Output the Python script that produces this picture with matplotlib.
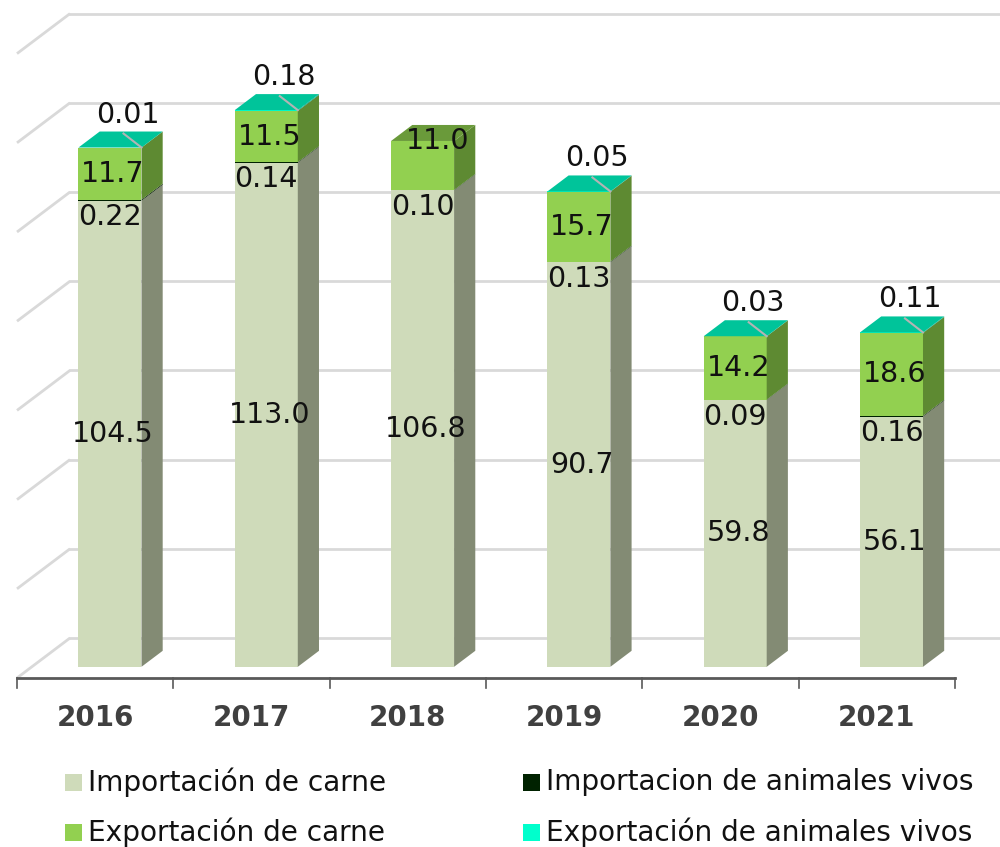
import numpy as np
import matplotlib.pyplot as plt
from matplotlib.patches import Polygon, Rectangle

# datos (miles de toneladas)
years = ['2016', '2017', '2018', '2019', '2020', '2021']
imp_carne = [104.5, 113.0, 106.8, 90.7, 59.8, 56.1]
imp_vivos = [0.22, 0.14, 0.10, 0.13, 0.09, 0.16]
exp_carne = [11.7, 11.5, 11.0, 15.7, 14.2, 18.6]
exp_vivos = [0.01, 0.18, 0.0, 0.05, 0.03, 0.11]
grid_vals = [0, 20, 40, 60, 80, 100, 120, 140]

nombres = ['Importación de carne', 'Importacion de animales vivos',
           'Exportación de carne', 'Exportación de animales vivos']
# (frente, lateral, tapa)
colores = [('#CFDBBA', '#838B74', '#A9B595'),
           ('#002200', '#001800', '#003300'),
           ('#92D050', '#5E8A32', '#6A9A3A'),
           ('#00FFCC', '#00A080', '#00C49A')]
leyenda_col = ['#CFDBBA', '#002200', '#92D050', '#00FFCC']

# escala en pixeles -> unidades
PX_X = 156.3   # px por categoria
PX_Y = 4.46    # px por unidad
DX = 53 / PX_X  # profundidad total
DY = 40 / PX_Y
BW = 63 / PX_X
D0, D1 = 0.28, 0.68

fig = plt.figure(figsize=(10, 8.47), dpi=100)
ax = fig.add_axes([0, 0, 1, 1])
ax.set_xlim(-0.5 - 17 / PX_X, -0.5 + 983 / PX_X)
ax.set_ylim(-169 / PX_Y, 678 / PX_Y)
ax.axis('off')


def P(x, v, d):
    return (x + d * DX, v + d * DY)


# paredes: lineas de cuadricula
for g in grid_vals:
    ax.plot([P(-0.5, g, 0)[0], P(-0.5, g, 1)[0]], [P(-0.5, g, 0)[1], P(-0.5, g, 1)[1]],
            color='#D9D9D9', lw=2, zorder=1, solid_capstyle='butt')
    ax.plot([P(-0.5, g, 1)[0], 7], [P(-0.5, g, 1)[1]] * 2,
            color='#D9D9D9', lw=2, zorder=1)

# eje frontal
ax.plot([-0.5, 5.5], [0, 0], color='#595959', lw=2, zorder=5)
for k in range(len(years) + 1):
    ax.plot([k - 0.5, k - 0.5], [0, -10 / PX_Y], color='#595959', lw=1.2, zorder=5)

series = [imp_carne, imp_vivos, exp_carne, exp_vivos]
lab_kw = dict(fontsize=20.5, color='#111111', ha='center', va='center', zorder=20)

for i, yr in enumerate(years):
    ax.text(i, -40 / PX_Y, yr, fontsize=20, fontweight='bold', color='#404040',
            ha='center', va='center')

    xl = i - BW / 2
    xr = i + BW / 2
    base = 0.0
    tops = []
    for s, vals in enumerate(series):
        v = vals[i]
        if v <= 0:
            tops.append(base)
            continue
        fr, sd, tp = colores[s]
        t = base + v
        front = [P(xl, base, D0), P(xr, base, D0), P(xr, t, D0), P(xl, t, D0)]
        side = [P(xr, base, D0), P(xr, base, D1), P(xr, t, D1), P(xr, t, D0)]
        ax.add_patch(Polygon(front, closed=True, fc=fr, ec='none', zorder=10))
        ax.add_patch(Polygon(side, closed=True, fc=sd, ec='none', zorder=10))
        base = t
        tops.append(t)
    # tapa con el color de la ultima serie visible
    last = max(s for s in range(4) if series[s][i] > 0)
    top = [P(xl, base, D0), P(xr, base, D0), P(xr, base, D1), P(xl, base, D1)]
    ax.add_patch(Polygon(top, closed=True, fc=colores[last][2], ec='none', zorder=11))

    cx = i + D0 * DX
    off = D0 * DY
    # importacion de carne
    ax.text(cx + 3 / PX_X, imp_carne[i] / 2 + off, f'{imp_carne[i]:.1f}', **lab_kw)
    # importacion de animales vivos
    ax.text(cx, tops[1] + off - 17 / PX_Y, f'{imp_vivos[i]:.2f}', **lab_kw)
    # exportacion de carne
    if exp_vivos[i] > 0:
        ax.text(cx + 3 / PX_X, (tops[1] + tops[2]) / 2 + off, f'{exp_carne[i]:.1f}', **lab_kw)
    else:
        ax.text(cx + 15 / PX_X, tops[2] + off, f'{exp_carne[i]:.1f}', **lab_kw)
        continue
    # exportacion de animales vivos + linea guia
    ax.text(cx + 18 / PX_X, base + off + 33 / PX_Y, f'{exp_vivos[i]:.2f}', **lab_kw)
    cxr, cyr = P(xr, base, D0)
    ax.plot([cxr, cxr - 18 / PX_X], [cyr, cyr + 14 / PX_Y], color='#B4B4B4', lw=1.5, zorder=12)

# leyenda
H, W = 847, 1000
pos = [(65, 782), (523, 782), (65, 832), (523, 832)]
for (px, py), nom, c in zip(pos, nombres, leyenda_col):
    fig.patches.append(Rectangle((px / W, 1 - (py + 8.5) / H), 17 / W, 17 / H,
                                 transform=fig.transFigure, fc=c, ec='none'))
    fig.text((px + 23) / W, 1 - py / H, nom, fontsize=20.2, color='#111111',
             ha='left', va='center')

fig.savefig('out.png', dpi=100)
